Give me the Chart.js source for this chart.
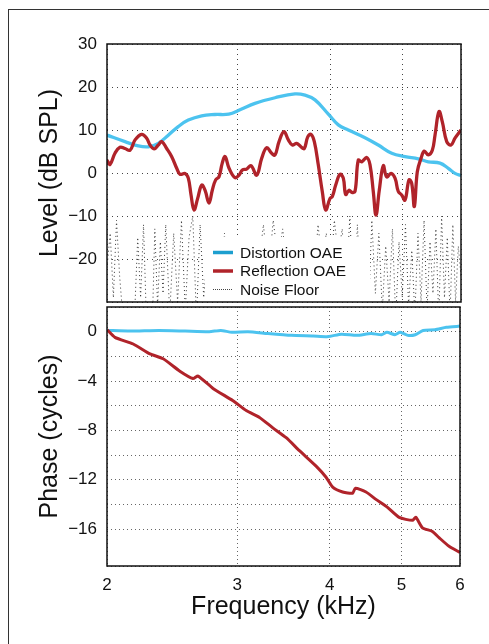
<!DOCTYPE html>
<html>
<head>
<meta charset="utf-8">
<script src="https://cdn.jsdelivr.net/npm/chart.js@4.4.1/dist/chart.umd.min.js"></script>
<style>
  html, body { margin: 0; padding: 0; background: #fff; }
  body { width: 489px; height: 644px; position: relative; overflow: hidden; }
  #frame { position: absolute; left: 8px; top: 9px; width: 600px; height: 700px; border-top: 1px solid #333; border-left: 1px solid #333; }
  #levelChart { position: absolute; left: 0; top: 0; }
  #phaseChart { position: absolute; left: 0; top: 305px; }
</style>
</head>
<body>
<div id="frame"></div>
<canvas id="levelChart" width="489" height="305"></canvas>
<canvas id="phaseChart" width="489" height="339"></canvas>
<script>
const FONT = "'Liberation Sans', Arial, Helvetica, sans-serif";

// --- Level panel (dB SPL vs kHz) ---
const dpFreq  = [2.000, 2.115, 2.204, 2.274, 2.345, 2.419, 2.495, 2.574, 2.683, 2.796, 2.918, 3.022, 3.166, 3.369, 3.584, 3.697, 3.814, 3.975, 4.100, 4.229, 4.454, 4.642, 4.839, 5.043, 5.255, 5.421, 5.621, 5.768, 5.889, 6.000];
const dpLevel = [8.8, 7.3, 6.3, 6.1, 6.9, 8.8, 10.8, 12.3, 13.3, 13.6, 13.7, 14.7, 16.2, 17.5, 18.4, 18.1, 17.0, 13.7, 11.2, 10.0, 8.2, 6.5, 4.6, 3.8, 3.3, 2.6, 2.3, 1.1, -0.1, -0.6];

const sfFreq  = [2.000, 2.019, 2.050, 2.082, 2.115, 2.148, 2.182, 2.227, 2.262, 2.286, 2.316, 2.345, 2.370, 2.407, 2.445, 2.483, 2.509, 2.548, 2.574, 2.596, 2.620, 2.650, 2.683, 2.711, 2.745, 2.773, 2.802, 2.831, 2.860, 2.885, 2.921, 2.975, 3.013, 3.044, 3.085, 3.127, 3.183, 3.232, 3.283, 3.334, 3.369, 3.411, 3.464, 3.511, 3.555, 3.603, 3.652, 3.689, 3.729, 3.767, 3.806, 3.853, 3.901, 3.943, 3.996, 4.024, 4.067, 4.122, 4.164, 4.195, 4.238, 4.274, 4.318, 4.362, 4.409, 4.478, 4.524, 4.570, 4.609, 4.656, 4.714, 4.764, 4.828, 4.889, 4.939, 4.991, 5.043, 5.106, 5.149, 5.191, 5.239, 5.300, 5.354, 5.421, 5.489, 5.535, 5.604, 5.662, 5.740, 5.817, 5.889, 6.000];
const sfLevel = [3.0, 2.0, 4.6, 6.0, 5.7, 5.3, 7.7, 9.0, 8.1, 6.5, 5.6, 6.5, 7.3, 5.7, 3.8, 1.1, -0.3, -0.1, -1.2, -5.1, -8.6, -5.9, -2.8, -4.0, -7.0, -4.0, -1.6, -0.9, 2.3, 3.8, 1.1, -1.1, -0.5, 0.7, 0.9, 1.7, -0.5, 3.4, 5.9, 4.6, 4.2, 7.3, 9.6, 7.7, 6.5, 6.9, 6.1, 5.7, 8.4, 9.0, 7.3, 1.9, -4.3, -8.6, -5.9, -5.5, -2.8, -0.3, -1.2, -5.0, -4.0, -4.5, -4.3, 3.0, 2.6, 3.6, 1.9, -4.3, -9.8, -4.0, 1.7, -0.9, -0.1, -1.2, -4.3, -5.1, -6.3, -1.6, -2.4, -7.8, 0.3, 3.4, 5.1, 4.2, 5.3, 8.8, 14.3, 11.9, 7.3, 6.5, 8.1, 10.0];

const noiseFreq  = [2.00, 2.02, 2.04, 2.06, 2.08, 2.10, 2.12, 2.14, 2.16, 2.18, 2.20, 2.22, 2.24, 2.26, 2.28, 2.30, 2.32, 2.34, 2.36, 2.38, 2.40, 2.43, 2.46, 2.49, 2.52, 2.55, 2.58, 2.61, 2.64, 2.67, 2.70, 2.73, 2.76, 2.80, 2.84, 2.88, 2.92, 2.96, 3.00, 3.05, 3.10, 3.15, 3.20, 3.25, 3.30, 3.35, 3.40, 3.45, 3.50, 3.55, 3.60, 3.65, 3.70, 3.75, 3.80, 3.85, 3.90, 3.95, 4.00, 4.05, 4.10, 4.15, 4.20, 4.25, 4.30, 4.35, 4.40, 4.45, 4.50, 4.55, 4.60, 4.65, 4.70, 4.75, 4.80, 4.85, 4.90, 4.95, 5.00, 5.05, 5.10, 5.15, 5.20, 5.25, 5.30, 5.35, 5.40, 5.45, 5.50, 5.55, 5.60, 5.65, 5.70, 5.75, 5.80, 5.85, 5.90, 5.95, 6.00];
const noiseLevel = [-22, -14, -29, -11, -24, -33, -38, -40, -37, -32, -15, -29, -12, -34, -39, -38, -13, -31, -16, -28, -12, -33, -14, -30, -11, -32, -15, -10, -34, -12, -29, -19, -36, -38, -27, -14, -35, -38, -30, -18, -26, -15, -22, -12, -24, -11, -20, -13, -23, -15, -26, -19, -28, -16, -25, -12, -21, -14, -24, -11, -19, -13, -27, -10, -31, -12, -29, -15, -33, -11, -28, -14, -32, -17, -30, -13, -34, -16, -29, -12, -31, -18, -33, -14, -30, -11, -32, -16, -28, -13, -34, -10, -29, -15, -33, -12, -30, -17, -24];

// --- Phase panel (cycles vs kHz) ---
const dpPhaseFreq = [2.00, 2.15, 2.35, 2.55, 2.75, 2.85, 2.95, 3.10, 3.30, 3.55, 3.80, 3.98, 4.15, 4.35, 4.55, 4.70, 4.78, 4.90, 4.98, 5.10, 5.22, 5.35, 5.55, 5.75, 6.00];
const dpPhase     = [0.1, 0.05, 0.1, 0.05, 0.0, 0.1, -0.05, 0.0, -0.15, -0.3, -0.35, -0.4, -0.2, -0.3, -0.15, -0.25, -0.05, -0.25, -0.05, -0.3, -0.25, 0.1, 0.15, 0.35, 0.45];

const sfPhaseFreq = [2.002, 2.050, 2.170, 2.286, 2.382, 2.509, 2.614, 2.655, 2.782, 2.960, 3.085, 3.215, 3.351, 3.493, 3.640, 3.834, 3.955, 4.037, 4.164, 4.295, 4.332, 4.478, 4.619, 4.788, 4.965, 5.174, 5.229, 5.338, 5.506, 5.621, 5.799, 6.000];
const sfPhase     = [0.14, -0.46, -1.0, -1.8, -2.2, -3.2, -3.8, -3.6, -4.6, -5.6, -6.4, -6.95, -7.8, -8.6, -9.65, -10.9, -11.8, -12.6, -13.0, -13.1, -12.7, -13.0, -13.6, -14.25, -15.06, -15.3, -15.05, -15.9, -16.2, -16.7, -17.4, -17.9];

const freqTicks = [2, 3, 4, 5, 6];

const BLUE = "#4cc3ef";
const RED = "#b0232a";

const toPoints = (xs, ys) => xs.map((x, i) => ({ x: x, y: ys[i] }));
const minus = v => String(v).replace("-", "\u2212");

// plot areas are placed by hand, so drop the label overhang padding
const fixWidth = w => s => { s.width = w; s.paddingTop = 0; s.paddingBottom = 0; };
const fixHeight = h => s => { s.height = h; s.paddingLeft = 0; s.paddingRight = 0; };

// full box around each plot area
const boxPlugin = {
  id: "box",
  afterDraw(chart) {
    const { ctx, chartArea: a } = chart;
    ctx.save();
    ctx.strokeStyle = "#111";
    ctx.lineWidth = 1.5;
    ctx.strokeRect(a.left, a.top, a.right - a.left, a.bottom - a.top);
    ctx.restore();
  }
};

// legend sits inside the level plot, bottom middle
const legendSwatches = [
  { color: "#1d9fcf", width: 3.5, dash: [] },
  { color: RED, width: 3.5, dash: [] },
  { color: "#444", width: 1, dash: [1, 1] }
];
const insetLegend = {
  id: "insetLegend",
  afterDatasetsDraw(chart) {
    const ctx = chart.ctx;
    ctx.save();
    ctx.fillStyle = "#fff";
    ctx.fillRect(205, 237, 165, 65);
    chart.data.datasets.forEach((ds, i) => {
      const y = 252.5 + i * 18.5;
      const sw = legendSwatches[i];
      ctx.beginPath();
      ctx.strokeStyle = sw.color;
      ctx.lineWidth = sw.width;
      ctx.setLineDash(sw.dash);
      ctx.moveTo(213, y);
      ctx.lineTo(233, y);
      ctx.stroke();
      ctx.setLineDash([]);
      ctx.fillStyle = "#111";
      ctx.font = "15.5px " + FONT;
      ctx.textBaseline = "middle";
      ctx.fillText(ds.label, 240, y + 1);
    });
    ctx.restore();
  }
};

Chart.defaults.font.family = FONT;
Chart.defaults.color = "#111";

// --- Chart 1: Level ---
new Chart(document.getElementById("levelChart"), {
  type: "line",
  data: {
    datasets: [
      { label: "Distortion OAE", data: toPoints(dpFreq, dpLevel), borderColor: BLUE, borderWidth: 3.3, tension: 0.4, order: 1 },
      { label: "Reflection OAE", data: toPoints(sfFreq, sfLevel), borderColor: RED, borderWidth: 3.3, tension: 0.4, order: 0 },
      { label: "Noise Floor", data: toPoints(noiseFreq, noiseLevel), borderColor: "#333", borderWidth: 1, borderDash: [1, 3], tension: 0, order: 2 }
    ]
  },
  options: {
    responsive: false,
    animation: false,
    layout: { padding: { left: 0, top: 44, right: 28, bottom: 0 } },
    elements: { point: { radius: 0 } },
    plugins: { legend: { display: false }, tooltip: { enabled: false } },
    scales: {
      x: {
        type: "logarithmic", min: 2, max: 6,
        afterBuildTicks: s => { s.ticks = freqTicks.map(v => ({ value: v })); },
        ticks: { display: false },
        grid: { color: "#444", drawTicks: false },
        border: { display: false, dash: [1, 4] },
        afterFit: fixHeight(3)
      },
      y: {
        min: -30, max: 30,
        ticks: { stepSize: 10, padding: 10, font: { size: 17 }, callback: v => (v === -30 ? "" : minus(v)) },
        grid: { color: "#444", drawTicks: false },
        border: { display: false, dash: [1, 4] },
        title: { display: true, text: "Level (dB SPL)", font: { size: 25 }, padding: { top: 35, bottom: 0 } },
        afterFit: fixWidth(107)
      }
    }
  },
  plugins: [insetLegend, boxPlugin]
});

// --- Chart 2: Phase ---
new Chart(document.getElementById("phaseChart"), {
  type: "line",
  data: {
    datasets: [
      { label: "Distortion OAE", data: toPoints(dpPhaseFreq, dpPhase), borderColor: BLUE, borderWidth: 3, tension: 0.2, order: 1 },
      { label: "Reflection OAE", data: toPoints(sfPhaseFreq, sfPhase), borderColor: RED, borderWidth: 3, tension: 0.2, order: 0 }
    ]
  },
  options: {
    responsive: false,
    animation: false,
    layout: { padding: { left: 0, top: 2, right: 29, bottom: 0 } },
    elements: { point: { radius: 0 } },
    plugins: { legend: { display: false }, tooltip: { enabled: false } },
    scales: {
      x: {
        type: "logarithmic", min: 2, max: 6,
        afterBuildTicks: s => { s.ticks = freqTicks.map(v => ({ value: v })); },
        ticks: { padding: 9, font: { size: 17 }, maxRotation: 0, callback: v => String(v) },
        grid: { color: "#666", drawTicks: false },
        border: { display: false, dash: [1, 3] },
        title: { display: true, text: "Frequency (kHz)", font: { size: 25 }, padding: { top: 0, bottom: 22 } },
        afterFit: fixHeight(78)
      },
      y: {
        min: -19, max: 2,
        ticks: { stepSize: 2, padding: 10, font: { size: 17 }, callback: v => (v % 4 === 0 ? minus(v) : "") },
        grid: { color: "#666", drawTicks: false },
        border: { display: false, dash: [1, 3] },
        title: { display: true, text: "Phase (cycles)", font: { size: 25 }, padding: { top: 35, bottom: 0 } },
        afterFit: fixWidth(107)
      }
    }
  },
  plugins: [boxPlugin]
});
</script>
</body>
</html>
